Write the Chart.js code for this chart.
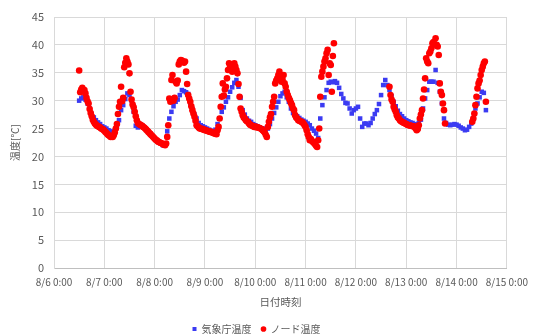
<!DOCTYPE html>
<html><head><meta charset="utf-8">
<script src="https://cdn.jsdelivr.net/npm/chart.js@4/dist/chart.umd.min.js"></script>
<style>html,body{margin:0;padding:0;background:#fff}</style>
</head><body>
<canvas id="c" width="536" height="334"></canvas>
<script>
// x tick labels (one per day, 24 h apart)
const xTickLabels = ["8/6 0:00","8/7 0:00","8/8 0:00","8/9 0:00","8/10 0:00","8/11 0:00","8/12 0:00","8/13 0:00","8/14 0:00","8/15 0:00"];

// 気象庁温度: hourly, first value at 8/6 12:00 (hours since 8/6 0:00)
const jmaStartHour = 12;
const jmaTemps = [
  30.0,30.4,30.6,30.2,29.5,28.6,27.6,27.0,26.5,26.1,25.8,25.4,
  25.2,25.0,24.7,24.5,24.3,24.6,25.5,26.5,28.3,29.2,30.3,31.3,31.0,30.0,28.0,25.5,25.2,25.8,25.6,25.2,24.8,24.4,24.1,23.6,
  23.2,22.9,22.6,22.3,22.0,22.2,24.5,26.8,28.0,29.0,29.8,30.2,31.0,31.9,31.7,31.5,31.2,29.5,28.5,27.5,26.8,26.0,25.6,25.4,
  25.2,25.0,24.8,24.6,24.4,24.8,25.8,26.8,28.0,28.8,29.8,30.6,31.6,32.4,33.2,33.7,32.5,30.5,28.3,27.5,26.8,26.4,26.2,25.8,
  25.6,25.4,25.2,25.0,25.0,24.9,25.0,25.8,26.8,27.8,28.8,29.8,30.8,31.3,31.6,30.6,29.8,28.6,27.8,27.4,27.2,26.9,26.6,26.4,
  26.2,25.9,25.6,25.0,24.6,24.1,23.3,26.8,29.2,30.6,31.9,33.2,33.4,33.3,33.5,33.2,32.3,31.2,30.4,29.6,29.5,28.6,27.7,28.3,
  28.6,28.9,26.8,25.3,25.9,25.9,25.6,26.0,26.8,27.6,28.3,29.4,31.0,32.8,33.7,32.8,31.9,30.8,29.8,29.0,28.2,27.6,27.2,26.8,
  26.5,26.3,26.1,26.0,25.8,25.6,26.0,26.6,28.6,30.4,31.9,33.4,33.4,33.4,35.5,33.2,31.6,29.5,26.8,26.0,25.7,25.6,25.7,25.8,
  25.7,25.5,25.2,25.0,24.7,24.8,25.3,25.9,26.8,28.6,29.5,30.6,31.6,31.4,28.3
];

// ノード温度: every 30 min, three recorded runs
const nodeStepHours = 0.5;
const nodeStartA = 12;
const nodeTempsA = [
  35.4,31.5,32.0,32.3,31.8,31.9,31.3,30.5,29.9,29.5,28.5,27.8,
  27.2,26.6,26.2,25.9,25.7,25.5,25.4,25.3,25.2,25.0,24.9,24.8,
  24.6,24.4,24.2,24.0,23.8,23.7,23.5,23.6,23.5,23.8,24.3,25.0,
  25.8,27.6,28.9,29.8,32.5,29.9,30.5,36.0,36.8,37.6,37.0,36.5,
  34.9,31.6,30.2,29.3,28.8,28.0,27.2,26.5,26.0,25.8,25.7,25.6,
  25.5,25.3,25.2,25.0,24.8,24.6,24.4,24.2,24.0,23.8,23.6,23.4,
  23.2,23.0,22.9,22.7,22.6,22.5,22.4,22.3,22.2,22.1,22.0,22.3,
  23.5,25.6,30.4,29.8,33.7,34.6,30.0,30.5,33.4,33.1,33.6,36.5,
  37.0,37.3,37.2,37.0,36.8,37.0,35.2,33.0,31.0,30.4,29.8,29.0,
  28.3,27.7,27.1,26.4,25.6,25.4,25.2,25.0,25.0,24.9,24.9,24.8,
  24.7,24.7,24.6,24.5,24.5,24.4,24.4,24.3,24.2,24.1,24.1,24.0,
  24.7,25.3,26.8,28.9,30.7,33.1,30.9,32.0,32.5,34.0,35.5,36.7,
  36.1,36.5,35.2,36.2,36.7,36.1,35.5,34.9,33.0,30.7,28.6,28.0,
  27.4,27.0,26.8,26.5,26.3,26.2,25.9,25.7,25.6,25.5,25.4,25.3,
  25.3,25.3,25.2,25.2,25.1,25.0,24.9,24.7,24.5,24.3,23.9,23.5,
  25.3,26.2,27.0,27.6,28.9,29.8,30.7,33.1,33.6,34.0,34.6,35.2,
  34.3,33.4,33.8,34.6,33.1,32.5,31.6,31.0,30.5,30.1,29.6,29.2,
  28.6,28.3,27.4,27.0,26.8,26.5,26.4,26.3,26.2,26.1,25.9,25.6,
  25.3,24.7,24.0,23.5,22.9,23.1,22.8,22.6,22.4,22.2,21.9,21.7,
  22.9,25.0,30.7,34.3,35.2,36.1,37.0,37.6,38.5,39.1,34.6,36.7,
  36.4,31.6,38.0,40.3
];
const nodeStartB = 160;
const nodeTempsB = [
  32.5,31.0,30.2,29.8,28.9,28.4,28.0,27.4,27.0,26.8,26.5,26.3,
  26.2,26.1,26.0,25.9,25.8,25.7,25.6,25.6,25.5,25.5,25.4,25.4,
  25.3,25.0,24.7,24.9,25.6,26.8,27.5,28.3,30.4,32.0,34.0,37.6,
  37.0,36.7,38.5,38.8,39.4,40.3,40.5,40.1,41.2,40.0,39.7,38.2,
  33.1,31.6,31.0,29.5,28.3,25.9
];
const nodeStartC = 199.5;
const nodeTempsC = [26.2,26.8,27.7,29.2,30.7,32.2,33.1,33.6,34.6,35.5,36.1,36.7,37.0,29.8];

const jmaPoints = jmaTemps.map((t, i) => ({x: jmaStartHour + i, y: t}));
const toPts = (start, arr) => arr.map((t, i) => ({x: start + i * nodeStepHours, y: t}));
const nodePoints = [].concat(toPts(nodeStartA, nodeTempsA), toPts(nodeStartB, nodeTempsB), toPts(nodeStartC, nodeTempsC));

const FONT = '"Noto Sans CJK JP", "Noto Sans", sans-serif';
const GRAY = '#595959';

new Chart(document.getElementById('c'), {
  type: 'scatter',
  data: {
    datasets: [
      {label: '気象庁温度', data: jmaPoints, pointStyle: 'rect', pointRadius: 3.2, backgroundColor: '#3b3bf2', borderColor: '#3b3bf2', borderWidth: 0, order: 1},
      {label: 'ノード温度', data: nodePoints, pointStyle: 'circle', pointRadius: 3.3, backgroundColor: '#ff0000', borderColor: '#ff0000', borderWidth: 0, order: 0}
    ]
  },
  options: {
    responsive: false,
    animation: false,
    devicePixelRatio: 1,
    layout: {padding: {top: 17, right: 23, left: 0, bottom: 0}},
    plugins: {
      legend: {position: 'bottom', maxHeight: 20,
        labels: {usePointStyle: true, boxWidth: 4, boxHeight: 4, padding: 10, color: GRAY, font: {size: 10, family: FONT},
          sort: (a, b) => a.datasetIndex - b.datasetIndex}},
      tooltip: {enabled: false}
    },
    scales: {
      x: {
        type: 'linear', min: 0, max: 216,
        ticks: {stepSize: 24, autoSkip: false, maxRotation: 0, padding: 8, color: GRAY, font: {size: 10, family: FONT},
          callback: (v) => xTickLabels[Math.round(v / 24)]},
        grid: {color: '#d9d9d9', drawTicks: false},
        border: {color: '#bfbfbf'},
        title: {display: true, text: '日付時刻', color: GRAY, font: {size: 10.5, family: FONT}, padding: {top: 0, bottom: 6}},
        afterFit: (s) => { s.height = 46; }
      },
      y: {
        min: 0, max: 45,
        ticks: {stepSize: 5, padding: 10, color: GRAY, font: {size: 11, family: FONT}},
        grid: {color: '#d9d9d9', drawTicks: false},
        border: {color: '#d9d9d9'},
        title: {display: true, text: '温度[℃]', color: GRAY, font: {size: 10, family: FONT}, padding: {top: 9, bottom: 0}},
        afterFit: (s) => { s.width = 54; }
      }
    }
  }
});
</script>
</body></html>
